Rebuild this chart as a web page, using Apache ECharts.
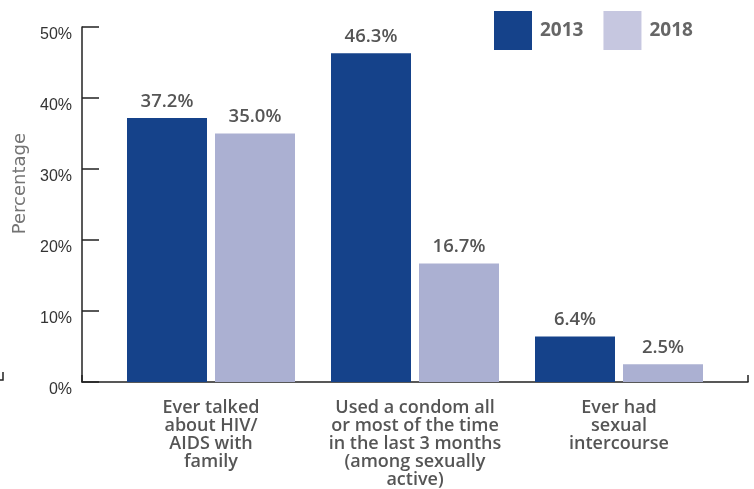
<!DOCTYPE html>
<html><head><meta charset="utf-8">
<script src="https://cdn.jsdelivr.net/npm/echarts@6/dist/echarts.min.js"></script>
<style>html,body{margin:0;padding:0;background:#fff}#c{width:754px;height:489px}</style>
</head><body><div id="c"></div>
<script>
var categories = ['Ever talked\nabout HIV/\nAIDS with\nfamily', 'Used a condom all\nor most of the time\nin the last 3 months\n(among sexually\nactive)', 'Ever had\nsexual\nintercourse'];
var values2013 = [37.2, 46.3, 6.4];
var values2018 = [35.0, 16.7, 2.5];
var yTicks = [0, 10, 20, 30, 40, 50];

var chart = echarts.init(document.getElementById('c'), null, {renderer: 'canvas'});
var labelFont = {show: true, position: 'top', distance: 7, color: '#555', fontFamily: 'Open Sans', fontWeight: 600, fontSize: 18.5, formatter: function (p) { return p.value.toFixed(1) + '%'; }};
chart.setOption({
  animation: false,
  backgroundColor: '#fff',
  legend: {
    top: 6, left: 489, itemWidth: 38, itemHeight: 39, itemGap: 20,
    textStyle: {color: '#666', fontFamily: 'Open Sans', fontWeight: 700, fontSize: 19, padding: [0, 0, 0, 3]},
    icon: 'rect',
    data: [{name: '2013', itemStyle: {color: '#15428a'}}, {name: '2018', itemStyle: {color: '#c6c7e0'}}]
  },
  graphic: [{
    type: 'text', left: 11, top: 133, rotation: Math.PI / 2,
    style: {text: 'Percentage', fill: '#737373', font: '18px "DejaVu Sans"'}
  }, {
    type: 'polyline', shape: {points: [[3, 372], [3, 380], [0, 380]]},
    style: {stroke: '#222', lineWidth: 1.5, fill: null}
  }],
  grid: [
    {left: 109, right: 33, top: 27, bottom: 107},
    {left: 82, right: 6, top: 27, bottom: 107}
  ],
  xAxis: [{
    type: 'category', data: categories, gridIndex: 0,
    axisLine: {show: false}, axisTick: {show: false},
    axisLabel: {margin: 17, color: '#555', fontFamily: 'Open Sans', fontWeight: 600, fontSize: 18, lineHeight: 18, interval: 0}
  }, {
    type: 'value', gridIndex: 1, min: 0, max: 1, interval: 1,
    axisLine: {show: true, lineStyle: {color: '#222', width: 1.5}},
    axisTick: {show: true, inside: true, length: 7, lineStyle: {color: '#222', width: 1.5}},
    axisLabel: {show: false}, splitLine: {show: false}
  }],
  yAxis: [{
    type: 'value', gridIndex: 0, min: yTicks[0], max: yTicks[yTicks.length - 1], interval: 10, offset: 27,
    axisLine: {show: true, lineStyle: {color: '#222', width: 1.5}},
    axisTick: {show: true, inside: true, length: 17, lineStyle: {color: '#222', width: 1.5}},
    axisLabel: {margin: 10, color: '#333', fontFamily: 'Liberation Sans', fontSize: 16, verticalAlign: 'top', formatter: '{value}%'},
    splitLine: {show: false}
  }, {
    type: 'value', gridIndex: 1, show: false, min: 0, max: 1
  }],
  series: [
    {name: '2013', type: 'bar', data: values2013, barWidth: 80, barGap: '10%', itemStyle: {color: '#15428a'}, label: labelFont},
    {name: '2018', type: 'bar', data: values2018, barWidth: 80, barGap: '10%', itemStyle: {color: '#abb0d2'}, label: labelFont}
  ]
});
</script></body></html>
